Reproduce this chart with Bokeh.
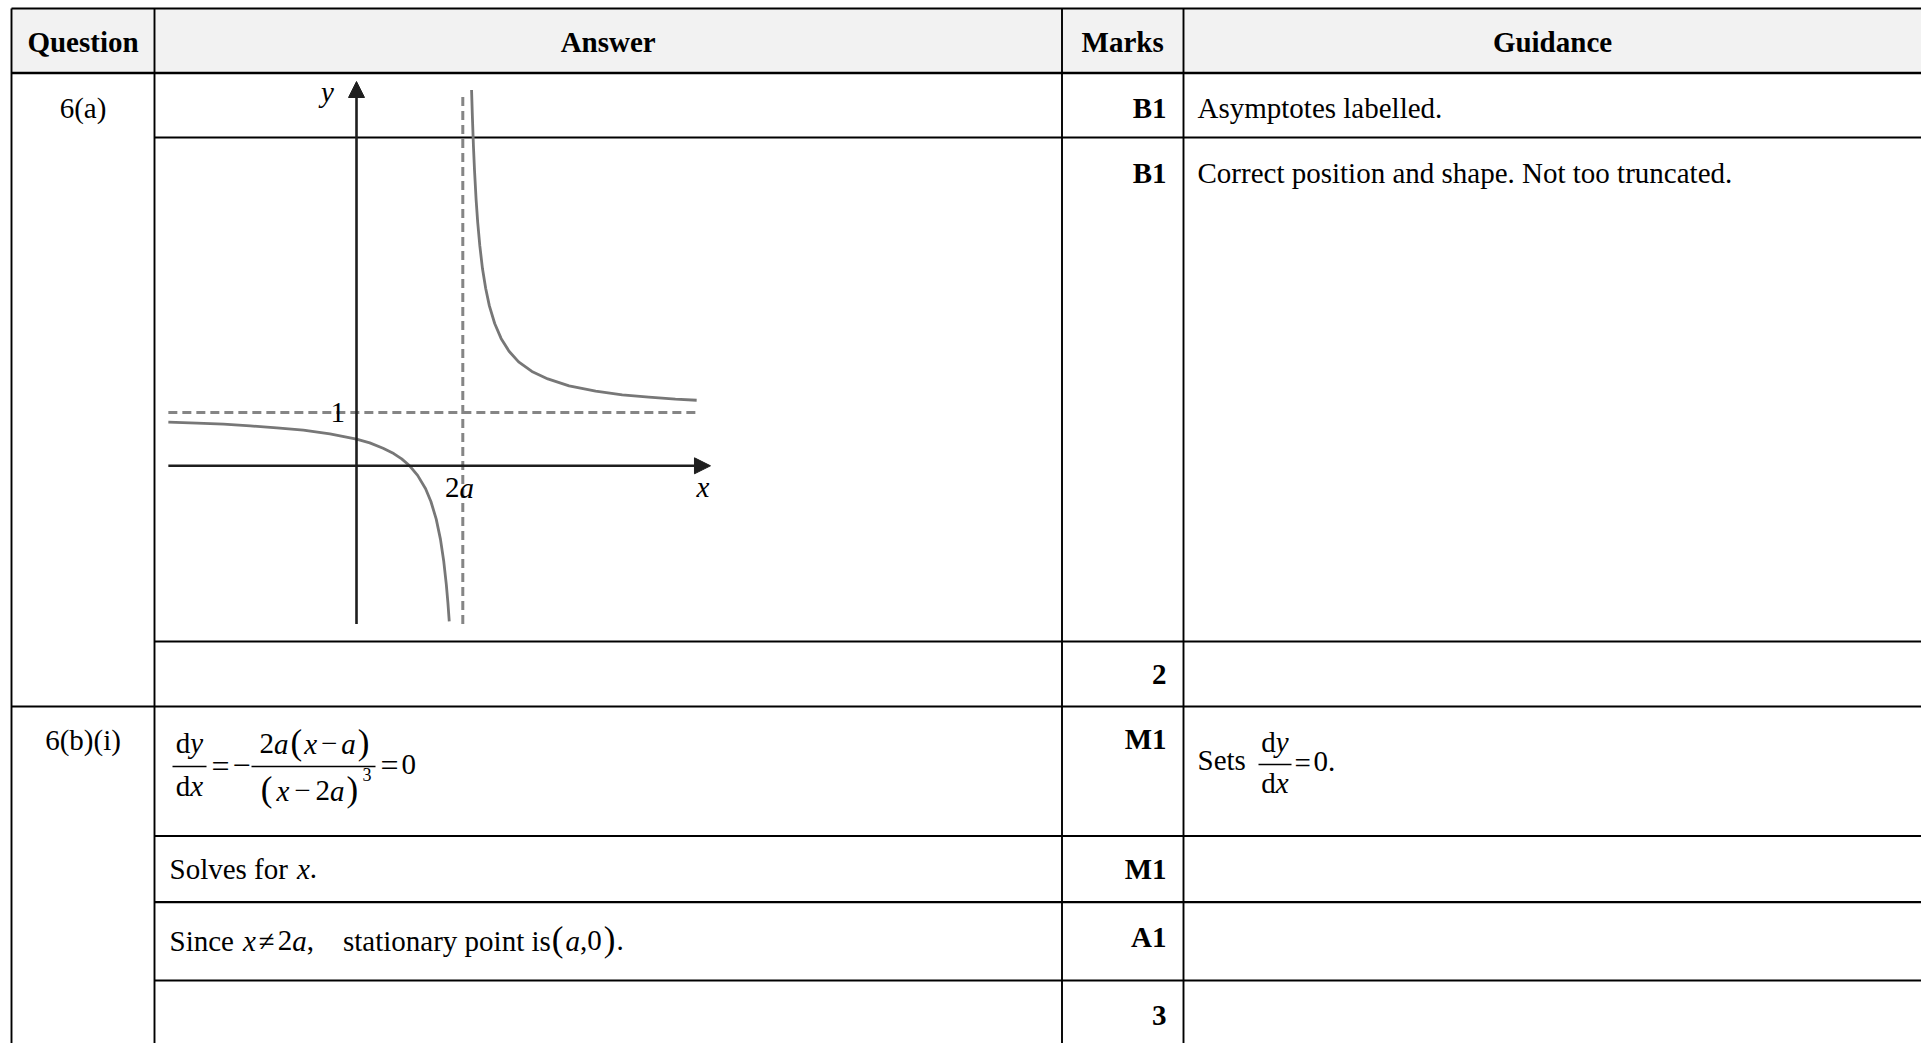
from bokeh.plotting import figure
from bokeh.models import Range1d, Arrow, NormalHead
from bokeh.core.properties import value
from bokeh.embed import file_html
from bokeh.resources import INLINE

# ------------------------------------------------------------------ data
HEADERS = ["Question", "Answer", "Marks", "Guidance"]
QUESTION_LABELS = ["6(a)", "6(b)(i)"]
MARKS_A = ["B1", "B1", "2"]
GUIDANCE_A = ["Asymptotes labelled.", "Correct position and shape. Not too truncated."]
MARKS_B = ["M1", "M1", "A1", "3"]

# sketch of y against x (x in units of a, horizontal asymptote y = 1)
VERT_ASYMPTOTE = 2.0
HORIZ_ASYMPTOTE = 1.0
LEFT_BRANCH_X = [-3.54, -3.0, -2.5, -2.0, -1.5, -1.0, -0.5, 0.0, 0.25, 0.5, 0.7, 0.85,
                 1.0, 1.15, 1.3, 1.4, 1.5, 1.58, 1.64, 1.69, 1.72, 1.745]
LEFT_BRANCH_Y = [0.82, 0.80, 0.78, 0.75, 0.71, 0.67, 0.60, 0.50, 0.43, 0.33, 0.23, 0.13,
                 0.0, -0.18, -0.43, -0.67, -1.0, -1.38, -1.78, -2.23, -2.57, -2.92]
RIGHT_BRANCH_X = [2.165, 2.18, 2.2, 2.22, 2.25, 2.28, 2.32, 2.37, 2.43, 2.5, 2.6, 2.72,
                  2.87, 3.05, 3.3, 3.6, 4.0, 4.5, 5.0, 5.5, 6.0, 6.4]
RIGHT_BRANCH_Y = [7.05, 6.56, 6.0, 5.55, 5.0, 4.57, 4.13, 3.70, 3.33, 3.0, 2.67, 2.39,
                  2.15, 1.95, 1.77, 1.63, 1.5, 1.4, 1.33, 1.29, 1.25, 1.23]
X_AXIS_EXTENT = (-3.54, 6.66)
Y_AXIS_EXTENT = (-2.97, 7.21)
DASH_X_EXTENT = (-3.54, 6.40)
DASH_Y_EXTENT = (-2.97, 7.00)

# ------------------------------------------------------------------ layout
W, H = 1921, 1043
OFF = 0
FONT = "Liberation Serif"
FS = 29


def X(px):
    return px - OFF


def Y(py):
    return py - OFF


p = figure(width=W, height=H, x_range=Range1d(0, W), y_range=Range1d(H, 0),
           output_backend="svg", toolbar_location=None, min_border=0,
           x_axis_location=None, y_axis_location=None)
p.grid.visible = False
p.outline_line_color = None
p.background_fill_color = "white"
p.border_fill_color = "white"

# graph coordinate system (origin and unit lengths of the sketch, in page px)
GX0, GY0 = 356.0, 465.3
UX, UY = 53.15, 53.3
p.extra_x_ranges = {"gx": Range1d((0 - X(GX0)) / UX, (W - X(GX0)) / UX)}
p.extra_y_ranges = {"gy": Range1d(-(H - Y(GY0)) / UY, Y(GY0) / UY)}

# ------------------------------------------------------------------ table
LEFT, RIGHT = 11, 1925
COLS = [11, 154, 1061.5, 1183]
TOP, HEAD = 8, 72.5
BOTTOM = 1050

p.quad(left=X(LEFT), right=X(RIGHT), top=Y(TOP), bottom=Y(HEAD),
       fill_color="#f2f2f2", line_color=None)

hlines = [(LEFT, TOP, 2), (LEFT, HEAD, 2.6), (154, 137, 2.2), (154, 641, 2.2), (LEFT, 706, 2.2),
          (154, 835.5, 2.2), (154, 901.7, 2.2), (154, 980, 2.2)]
for x0, yy, lw in hlines:
    p.segment(x0=[X(x0)], y0=[Y(yy)], x1=[X(RIGHT)], y1=[Y(yy)], line_color="black", line_width=lw)
for cx in COLS:
    p.segment(x0=[X(cx)], y0=[Y(TOP)], x1=[X(cx)], y1=[Y(BOTTOM)], line_color="black", line_width=1.9)


def txt(xp, yp, s, size=FS, style="normal", align="left", color="black"):
    p.text(x=[X(xp)], y=[Y(yp)], text=[s], text_font=value(FONT),
           text_font_size=value(f"{size}px"), text_font_style=style,
           text_align=align, text_baseline="middle", text_color=color)


ROMAN = {' ': 250, '(': 333, ')': 333, ',': 250, '.': 250, '=': 564, '\u2212': 564, '\u2260': 549,
         'a': 444, 'c': 444, 'd': 500, 'e': 444, 'f': 333, 'i': 278, 'l': 278, 'n': 500, 'o': 500,
         'p': 500, 'r': 333, 's': 389, 't': 278, 'v': 500, 'x': 500, 'y': 500, 'S': 556}
ITALIC = {'a': 500, 'x': 444, 'y': 444}


def width(s, style, size):
    tab = ITALIC if style == "italic" else ROMAN
    return sum(tab.get(c, ROMAN.get(c, 500)) for c in s) * size / 1000.0


def seq(x, y, parts, align="left"):
    # parts: (text, style, size, gap_before, dy)
    total = sum(g + width(t, st, sz) for t, st, sz, g, dy in parts)
    cur = x - total / 2 if align == "center" else x
    for t, st, sz, g, dy in parts:
        cur += g
        txt(cur, y + dy, t, size=sz, style=st)
        cur += width(t, st, sz)


def bar(x0, x1, yy):
    p.segment(x0=[X(x0)], y0=[Y(yy)], x1=[X(x1)], y1=[Y(yy)], line_color="black", line_width=1.5)


# header
for lbl, cx in zip(HEADERS, [82.5, 607.7, 1122.2, 1552]):
    txt(cx, 41, lbl, style="bold", align="center")

# question labels
txt(82.5, 107.5, QUESTION_LABELS[0], align="center")
txt(82.5, 739, QUESTION_LABELS[1], align="center")

# marks
for m, yy in zip(MARKS_A, [107, 172, 673.5]):
    txt(1166, yy, m, style="bold", align="right")
for m, yy in zip(MARKS_B, [738, 868, 936, 1014.5]):
    txt(1166, yy, m, style="bold", align="right")

# guidance
txt(1197, 107, GUIDANCE_A[0])
txt(1197, 172, GUIDANCE_A[1])
txt(1197, 759, "Sets")
seq(1274.5, 741, [("d", "normal", FS, 0, 0), ("y", "italic", FS, 0, 0)], align="center")
bar(1258, 1291, 764)
seq(1274.5, 782.5, [("d", "normal", FS, 0, 0), ("x", "italic", FS, 0, 0)], align="center")
txt(1294, 762, "=")
txt(1313, 761, "0.")

# answer: derivative
seq(189, 742, [("d", "normal", FS, 0, 0), ("y", "italic", FS, 0, 0)], align="center")
bar(172, 206, 766)
seq(189, 785, [("d", "normal", FS, 0, 0), ("x", "italic", FS, 0, 0)], align="center")
txt(211, 765, "=", size=32)
txt(232, 765, "\u2212", size=32)
BIG = 35
seq(314, 743, [("2", "normal", FS, 0, 0), ("a", "italic", FS, 0, 0), ("(", "normal", BIG, 2, -1),
               ("x", "italic", FS, 2, 0), ("\u2212", "normal", FS, 4, 0), ("a", "italic", FS, 4, 0),
               (")", "normal", BIG, 2, -1)], align="center")
bar(251, 375, 766)
seq(309, 790, [("(", "normal", BIG, 0, -1), ("x", "italic", FS, 4, 0), ("\u2212", "normal", FS, 5, 0),
               ("2", "normal", FS, 5, 0), ("a", "italic", FS, 0, 0), (")", "normal", BIG, 2, -1)],
    align="center")
txt(362, 774, "3", size=18)
txt(380, 764, "=", size=32)
txt(401, 764, "0")

# answer: solves for x
seq(169, 868, [("Solves for", "normal", FS, 0, 0), ("x", "italic", FS, 9, 0), (".", "normal", FS, 0, 0)])

# answer: stationary point
seq(169, 940, [("Since", "normal", FS, 0, 0), ("x", "italic", FS, 9, 0), ("\u2260", "normal", FS, 3, 0),
               ("2", "normal", FS, 3, 0), ("a", "italic", FS, 0, 0), (",", "normal", FS, 0, 0),
               ("stationary point is", "normal", FS, 29, 0), ("(", "normal", BIG, 1, -1),
               ("a", "italic", FS, 2, 0), (",", "normal", FS, 0, 0), ("0", "normal", FS, 0, 0),
               (")", "normal", BIG, 2, -1), (".", "normal", FS, 1, 0)])

# ------------------------------------------------------------------ sketch
AX = "#1e1e1e"
CURVE = "#777777"
DASH = "#858585"
p.line(x=list(DASH_X_EXTENT), y=[HORIZ_ASYMPTOTE, HORIZ_ASYMPTOTE], x_range_name="gx", y_range_name="gy",
       line_color=DASH, line_width=3, line_dash="9 5")
p.line(x=[VERT_ASYMPTOTE, VERT_ASYMPTOTE], y=list(DASH_Y_EXTENT), x_range_name="gx", y_range_name="gy",
       line_color=DASH, line_width=3, line_dash="9 5")
p.add_layout(Arrow(end=NormalHead(size=16, fill_color=AX, line_color=AX, line_width=1),
                   x_start=X_AXIS_EXTENT[0], y_start=0, x_end=X_AXIS_EXTENT[1], y_end=0,
                   x_range_name="gx", y_range_name="gy", line_color=AX, line_width=2.6))
p.add_layout(Arrow(end=NormalHead(size=16, fill_color=AX, line_color=AX, line_width=1),
                   x_start=0, y_start=Y_AXIS_EXTENT[0], x_end=0, y_end=Y_AXIS_EXTENT[1],
                   x_range_name="gx", y_range_name="gy", line_color=AX, line_width=2.6))
p.line(x=LEFT_BRANCH_X, y=LEFT_BRANCH_Y, x_range_name="gx", y_range_name="gy",
       line_color=CURVE, line_width=2.8, line_join="round")
p.line(x=RIGHT_BRANCH_X, y=RIGHT_BRANCH_Y, x_range_name="gx", y_range_name="gy",
       line_color=CURVE, line_width=2.8, line_join="round")

txt(327, 91, "y", style="italic", align="center")
txt(702.5, 486, "x", style="italic", align="center")
txt(337.3, 412, "1", align="center")
seq(459, 487, [("2", "normal", FS, 0, 0), ("a", "italic", FS, 0, 0)], align="center")

open("out.html", "w").write(file_html(p, INLINE))
